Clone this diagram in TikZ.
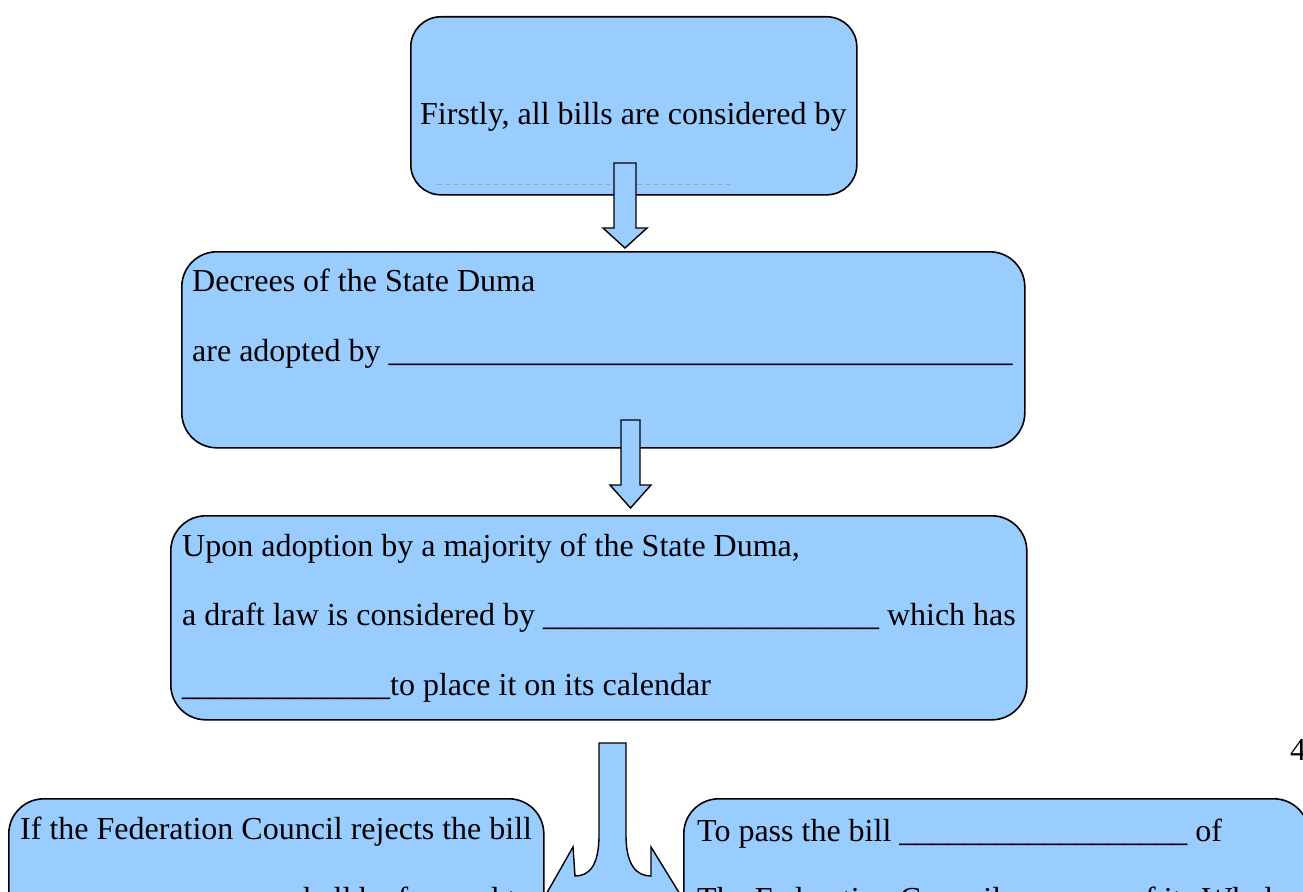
\documentclass[tikz,border=0pt]{standalone}
\usepackage{fontspec}
\setmainfont{Liberation Serif}
\definecolor{boxblue}{RGB}{153,204,255}
\newcommand{\blanks}[1]{\foreach \i in {1,...,#1}{\_}}
\begin{document}
\begin{tikzpicture}[x=1pt,y=-1pt,
  box/.style={draw=black, line width=1.6pt, fill=boxblue, rounded corners=#1, inner sep=0pt, anchor=north west},
  box/.default=34pt,
  txt/.style={anchor=base west, inner sep=0pt, font=\fontsize{32}{38}\selectfont},
  blockarrow/.style={draw=black, line width=1.4pt, fill=boxblue, line join=miter}]
\useasboundingbox (0,0) rectangle (1303,891);
\clip (0,0) rectangle (1303,891);

% box 1
\node[box=30pt, minimum width=446pt, minimum height=178pt] (b1) at (410,16) {};
\node[txt] (t1) at (420,124) {Firstly, all bills are considered by};
\coordinate (d1) at (437,184);
\coordinate (d2) at (733,184);
\draw[gray!70, line width=0.8pt, dash pattern=on 5pt off 3pt] (d1) -- (d2);

% arrow 1
\draw[blockarrow] (614,163) -- (636,163) -- (636,228) -- (647,228) -- (625,248) -- (603,228) -- (614,228) -- cycle;

% box 2
\node[box=35pt, minimum width=843pt, minimum height=196pt] (b2) at (181,251) {};
\node[txt] (t2a) at (192,291) {Decrees of the State Duma};
\node[txt] (t2b) at (192,361) {are adopted by \blanks{39}};

% arrow 2
\draw[blockarrow] (621,420) -- (640,420) -- (640,485) -- (651,485) -- (630.5,508) -- (610,485) -- (621,485) -- cycle;

% box 3
\node[box=35pt, minimum width=856pt, minimum height=204pt] (b3) at (170,515) {};
\node[txt] (t3a) at (182,556) {Upon adoption by a majority of the State Duma,};
\node[txt] (t3b) at (182,625) {a draft law is considered by \blanks{21} which has};
\node[txt] (t3c) at (182,695) {\blanks{13}to place it on its calendar};

% split arrow
\draw[blockarrow] (599,743) -- (626,743) -- (626,835)
  .. controls (626,866) and (637,876) .. (651,876) -- (651,847) -- (691,912)
  -- (536,912) -- (573,847) -- (575,876)
  .. controls (589,876) and (599,866) .. (599,835) -- cycle;

% box 4
\node[box=35pt, minimum width=535pt, minimum height=220pt] (b4) at (8,798) {};
\node[txt] (t4a) at (20,839) {If the Federation Council rejects the bill};
\node[txt, anchor=base east] (t4b) at (532,909) {\blanks{13} shall be forward to};

% box 5
\node[box=35pt, minimum width=625pt, minimum height=220pt] (b5) at (683,798) {};
\node[txt] (t5a) at (697,841) {To pass the bill \blanks{18} of};
\node[txt] (t5b) at (697,909) {The Federation Council \blanks{7} of its Whole};

% page number
\node[txt] (pg) at (1290,760) {4};
\end{tikzpicture}
\end{document}
